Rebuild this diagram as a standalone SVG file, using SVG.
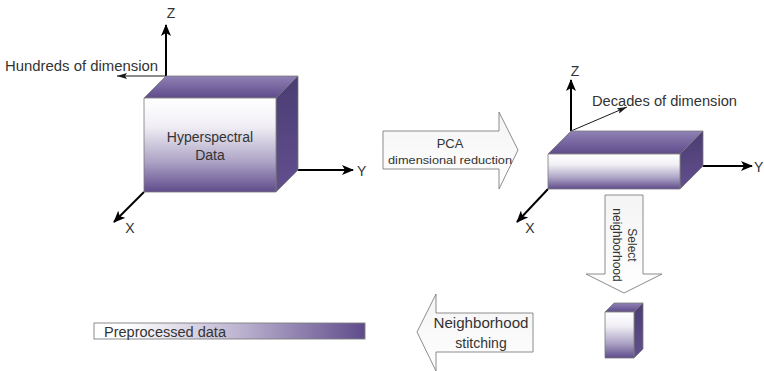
<svg xmlns="http://www.w3.org/2000/svg" width="764" height="371" viewBox="0 0 764 371">
  <defs>
    <style>
      .lbl { font-family: "Liberation Sans", Arial, sans-serif; fill: #333333; }
      .edge { stroke: #7a7a7a; stroke-width: 0.8; stroke-linejoin: round; }
      .axis { stroke: #000; stroke-width: 2; fill: none; }
      .thin { stroke: #1a1a1a; stroke-width: 1; fill: none; }
      .blk { fill: url(#blkGrad); stroke: #7f7f7f; stroke-width: 0.9; stroke-linejoin: miter; }
    </style>
    <linearGradient id="frontGrad" x1="0" y1="0" x2="0" y2="1">
      <stop offset="0" stop-color="#ffffff"/>
      <stop offset="0.3" stop-color="#f1eff5"/>
      <stop offset="0.68" stop-color="#aca3c5"/>
      <stop offset="1" stop-color="#5f4b8b"/>
    </linearGradient>
    <linearGradient id="topGrad" x1="0" y1="0" x2="0" y2="1">
      <stop offset="0" stop-color="#8f81b5"/>
      <stop offset="1" stop-color="#5f4b8b"/>
    </linearGradient>
    <linearGradient id="sideGrad" x1="0" y1="0" x2="0" y2="1">
      <stop offset="0" stop-color="#4b3c72"/>
      <stop offset="1" stop-color="#62508f"/>
    </linearGradient>
    <linearGradient id="barGrad" x1="0" y1="0" x2="1" y2="0">
      <stop offset="0" stop-color="#ffffff"/>
      <stop offset="0.12" stop-color="#ffffff"/>
      <stop offset="0.5" stop-color="#c3bbd5"/>
      <stop offset="1" stop-color="#5f4b8b"/>
    </linearGradient>
    <linearGradient id="blkGrad" x1="0" y1="0" x2="0" y2="1">
      <stop offset="0" stop-color="#f4f4f4"/>
      <stop offset="1" stop-color="#ffffff"/>
    </linearGradient>
    <marker id="axisHead" viewBox="0 0 12 10" refX="11" refY="5" markerWidth="12" markerHeight="10" orient="auto" markerUnits="userSpaceOnUse">
      <path d="M0,0 L12,5 L0,10 L3,5 Z" fill="#000"/>
    </marker>
    <marker id="thinHead" viewBox="0 0 10 6" refX="10" refY="3" markerWidth="10" markerHeight="6" orient="auto" markerUnits="userSpaceOnUse">
      <path d="M0,0 L10,3 L0,6 L2,3 Z" fill="#1a1a1a"/>
    </marker>
  </defs>

  <rect width="764" height="371" fill="#ffffff"/>

  <!-- hyperspectral cube with its axes -->
  <g id="hyperspectral-cube">
    <line class="axis" x1="166" y1="76" x2="166" y2="25" marker-end="url(#axisHead)"/>
    <line class="thin" x1="166" y1="76" x2="117" y2="76" marker-end="url(#thinHead)"/>
    <line class="axis" x1="298" y1="170" x2="353" y2="170" marker-end="url(#axisHead)"/>
    <line class="axis" x1="144" y1="192" x2="114" y2="222" marker-end="url(#axisHead)"/>
    <polygon class="edge" points="144,98 166,76 298,76 276,98" fill="url(#topGrad)"/>
    <polygon class="edge" points="276,98 298,76 298,170 276,192" fill="url(#sideGrad)"/>
    <rect class="edge" x="144" y="98" width="132" height="94" fill="url(#frontGrad)"/>
    <text class="lbl" x="171" y="18" font-size="14" text-anchor="middle">Z</text>
    <text class="lbl" x="5" y="71" font-size="14" textLength="153" lengthAdjust="spacingAndGlyphs">Hundreds of dimension</text>
    <text class="lbl" x="357" y="176" font-size="14">Y</text>
    <text class="lbl" x="130" y="233" font-size="14" text-anchor="middle">X</text>
    <text class="lbl" x="210" y="142" font-size="14" text-anchor="middle">Hyperspectral</text>
    <text class="lbl" x="210" y="160" font-size="14" text-anchor="middle">Data</text>
  </g>

  <!-- reduced cube with its axes -->
  <g id="reduced-cube">
    <line class="axis" x1="571" y1="131" x2="571" y2="80" marker-end="url(#axisHead)"/>
    <line class="thin" x1="571" y1="131" x2="627" y2="107" marker-end="url(#thinHead)"/>
    <line class="axis" x1="703" y1="166" x2="752" y2="166" marker-end="url(#axisHead)"/>
    <line class="axis" x1="548" y1="189" x2="517" y2="222" marker-end="url(#axisHead)"/>
    <polygon class="edge" points="548,154 571,131 703,131 680,154" fill="url(#topGrad)"/>
    <polygon class="edge" points="680,154 703,131 703,166 680,189" fill="url(#sideGrad)"/>
    <rect class="edge" x="548" y="154" width="132" height="35" fill="url(#frontGrad)"/>
    <text class="lbl" x="575" y="76" font-size="14" text-anchor="middle">Z</text>
    <text class="lbl" x="592" y="106" font-size="14" textLength="145" lengthAdjust="spacingAndGlyphs">Decades of dimension</text>
    <text class="lbl" x="754" y="172" font-size="14">Y</text>
    <text class="lbl" x="530" y="233" font-size="14" text-anchor="middle">X</text>
  </g>

  <!-- neighborhood block -->
  <g id="neighborhood-block">
    <polygon class="edge" points="605,312 614,303 643,303 634,312" fill="url(#topGrad)"/>
    <polygon class="edge" points="634,312 643,303 643,349 634,358" fill="url(#sideGrad)"/>
    <rect class="edge" x="605" y="312" width="29" height="46" fill="url(#frontGrad)"/>
  </g>

  <!-- preprocessed data strip -->
  <g id="preprocessed-data">
    <rect x="94" y="323" width="271" height="16" fill="url(#barGrad)" stroke="#7f7f7f" stroke-width="0.9"/>
    <text class="lbl" x="104" y="337" font-size="14" textLength="122" lengthAdjust="spacingAndGlyphs">Preprocessed data</text>
  </g>

  <!-- process arrows -->
  <g id="connectors">
    <g id="pca-arrow">
      <path class="blk" d="M383,131 L499,131 L499,112 L518,150 L499,189 L499,169 L383,169 Z"/>
      <text class="lbl" x="450" y="148" font-size="13" text-anchor="middle">PCA</text>
      <text class="lbl" x="450" y="164" font-size="11.5" text-anchor="middle" textLength="124" lengthAdjust="spacingAndGlyphs">dimensional reduction</text>
    </g>
    <g id="select-arrow">
      <path class="blk" d="M605,195 L643,195 L643,274 L662,274 L624,293 L586,274 L605,274 Z"/>
      <text class="lbl" transform="translate(628,245) rotate(90)" font-size="12" text-anchor="middle">Select</text>
      <text class="lbl" transform="translate(613,245) rotate(90)" font-size="12" text-anchor="middle">neighborhood</text>
    </g>
    <g id="stitching-arrow">
      <path class="blk" d="M533,313 L436,313 L436,294 L417,332 L436,371 L436,352 L533,352 Z"/>
      <text class="lbl" x="481" y="328" font-size="14" text-anchor="middle" textLength="95" lengthAdjust="spacingAndGlyphs">Neighborhood</text>
      <text class="lbl" x="481" y="348" font-size="14" text-anchor="middle">stitching</text>
    </g>
  </g>
</svg>
